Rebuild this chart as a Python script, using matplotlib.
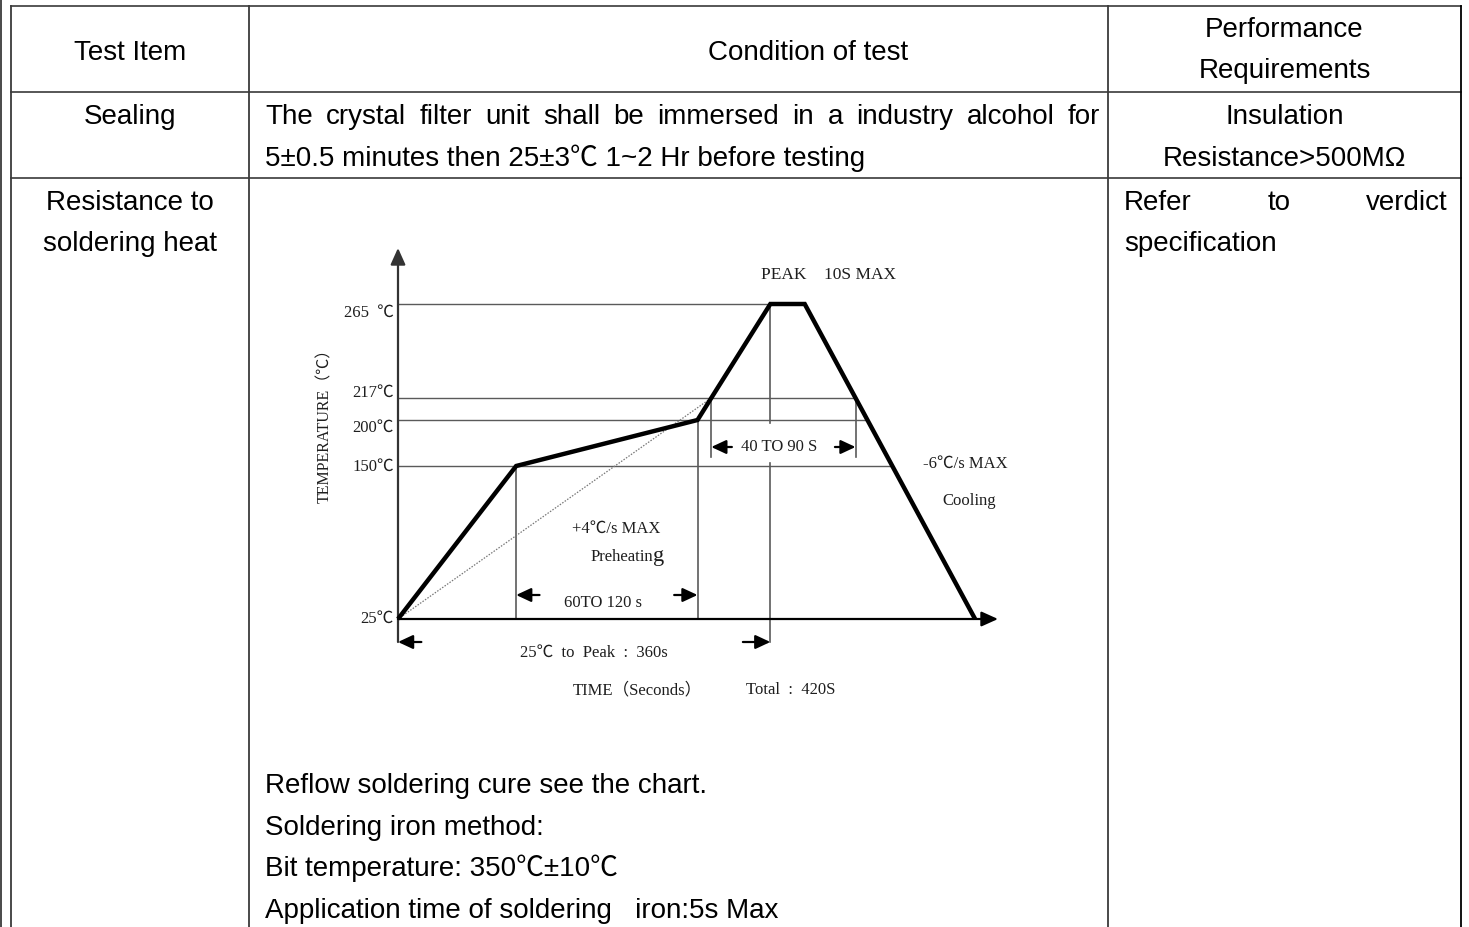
import numpy as np
import matplotlib
matplotlib.use("Agg")
import matplotlib.pyplot as plt
from matplotlib.transforms import blended_transform_factory

# ------------------------------------------------------------------ data
header_item = "Test Item"
header_cond = "Condition of test"
header_perf = ["Performance", "Requirements"]

row1_item = "Sealing"
row1_cond_line1 = "The crystal filter unit shall be immersed in a industry alcohol for"
row1_cond_line2 = "5±0.5 minutes then 25±3℃ 1~2 Hr before testing"
row1_perf = ["Insulation", "Resistance>500MΩ"]

row2_item = ["Resistance to", "soldering heat"]
row2_perf_line1 = "Refer to verdict"
row2_perf_line2 = "specification"
row2_cond_notes = [
    "Reflow soldering cure see the chart.",
    "Soldering iron method:",
    "Bit temperature: 350℃±10℃",
    "Application time of soldering   iron:5s Max",
]

# reflow profile (time in s, temperature in degC)
profile_time = [0, 86, 218, 228, 271, 296, 420]
profile_temp = [25, 150, 200, 217, 265, 265, 25]
temp_levels = [25, 150, 200, 217, 265]
temp_labels = ["25℃", "150℃", "200℃", "217℃", "265  ℃"]

# ------------------------------------------------------------------ layout
W, H = 1469, 927
col_x = [11, 249, 1108, 1461]
row_y = [6, 92, 178]
FS = 20
SANS = ["Liberation Sans", "Noto Sans CJK SC", "DejaVu Sans"]
SERIF = ["Liberation Serif", "Noto Sans CJK SC", "DejaVu Sans"]
LINE = "#3a3a3a"

# schematic chart geometry (pixels)
ox, oy = 398, 619          # origin of the chart
xtip, ytip = 998, 248      # arrow tips of the axes
px_per_s = 1.374
level_height = [0, 153, 199, 221, 315]   # schematic heights of temp_levels

fig = plt.figure(figsize=(W / 100, H / 100), dpi=100)
fig.patch.set_facecolor("white")
bg = fig.add_axes([0, 0, 1, 1])
bg.set_xlim(0, W)
bg.set_ylim(H, 0)
bg.axis("off")

# ---------------- table grid
bg.plot([1, 1], [0, H], color=LINE, lw=1.3)
for y in row_y:
    bg.plot([col_x[0], col_x[-1]], [y, y], color=LINE, lw=1.2)
for x in col_x:
    bg.plot([x, x], [row_y[0], H], color=LINE if x != col_x[-1] else "black", lw=1.3)


def ttext(x, y, s, ha="left"):
    return bg.text(x, y, s, ha=ha, va="baseline", fontsize=FS, family=SANS, color="black")


renderer = fig.canvas.get_renderer()


def justify(line, x0, x1, y):
    words = line.split()
    ts = [ttext(0, y, w) for w in words]
    ws = [t.get_window_extent(renderer).width for t in ts]
    gap = (x1 - x0 - sum(ws)) / (len(words) - 1)
    x = x0
    for t, w in zip(ts, ws):
        t.set_x(x)
        x += w + gap


c0 = (col_x[0] + col_x[1]) / 2
c2 = (col_x[2] + col_x[3]) / 2

ttext(c0, 60, header_item, ha="center")
ttext(808, 60, header_cond, ha="center")
ttext(c2, 37, header_perf[0], ha="center")
ttext(c2, 78, header_perf[1], ha="center")

ttext(c0, 124, row1_item, ha="center")
justify(row1_cond_line1, 265, 1100, 124)
ttext(265, 166, row1_cond_line2)
ttext(c2, 124, row1_perf[0], ha="center")
ttext(c2, 166, row1_perf[1], ha="center")

ttext(c0, 210, row2_item[0], ha="center")
ttext(c0, 251, row2_item[1], ha="center")
justify(row2_perf_line1, 1124, 1448, 210)
ttext(1124, 251, row2_perf_line2)
for i, s in enumerate(row2_cond_notes):
    ttext(265, 793 + i * 41.7, s)

# ---------------- reflow chart
TK = np.array([-300.0] + temp_levels + [600.0])
HK = np.array([-325 * 1.2] + level_height + [level_height[-1] + (600 - 265) * 1.3125])


def fwd(t):
    return np.interp(t, TK, HK)


def inv(h):
    return np.interp(h, HK, TK)


ax = fig.add_axes([ox / W, (H - oy) / H, (xtip - ox) / W, (oy - ytip) / H])
ax.set_yscale("function", functions=(fwd, inv))
ax.set_xlim(0, (xtip - ox) / px_per_s)
ax.set_ylim(25, float(inv(oy - ytip)))
ax.axis("off")
bl = blended_transform_factory(ax.transData, bg.transData)


def ypx(T):
    return oy - float(fwd(T))


t5, t6 = profile_time[5], profile_time[6]
h5, h6 = fwd(profile_temp[5]), fwd(profile_temp[6])


def t_cool(T):
    return t5 + (h5 - fwd(T)) / (h5 - h6) * (t6 - t5)


GRID = "#5a5a5a"
# horizontal levels
ax.plot([0, profile_time[4]], [265, 265], color=GRID, lw=1.0, clip_on=False)
for lvl in [150, 200, 217]:
    ax.plot([0, t_cool(lvl)], [lvl, lvl], color=GRID, lw=1.0, clip_on=False)
# verticals
ax.plot([profile_time[1]] * 2, [150, 25], color=GRID, lw=1.2, clip_on=False)
ax.plot([profile_time[2]] * 2, [200, 25], color=GRID, lw=1.2, clip_on=False)
ax.plot([profile_time[3]] * 2, [ypx(217), 457], color=GRID, lw=1.2, transform=bl, clip_on=False)
ax.plot([t_cool(217)] * 2, [ypx(217), 457], color=GRID, lw=1.2, transform=bl, clip_on=False)
ax.plot([profile_time[4]] * 2, [ypx(265), 423], color=GRID, lw=1.2, transform=bl, clip_on=False)
ax.plot([profile_time[4]] * 2, [463, 642], color=GRID, lw=1.2, transform=bl, clip_on=False)

# dotted reference ramp
ax.plot([profile_time[0], profile_time[3]], [profile_temp[0], profile_temp[3]],
        color="#777777", lw=0.9, ls=(0, (1.2, 1.2)), clip_on=False)

# profile curve
ax.plot(profile_time, profile_temp, color="black", lw=3.2, clip_on=False,
        solid_joinstyle="miter", solid_capstyle="butt", zorder=5)

AX_ARROW = dict(arrowstyle="-|>,head_length=1.0,head_width=0.45", mutation_scale=10,
                lw=1.6, color="black", shrinkA=0, shrinkB=0)
# y axis (extends below origin to the dimension line)
ax.annotate("", xy=(0, ytip), xytext=(0, 642), xycoords=bl, textcoords=bl,
            arrowprops=dict(AX_ARROW, color="#333333"), annotation_clip=False)
# x axis
ax.annotate("", xy=(ax.get_xlim()[1], 25), xytext=(0, 25),
            arrowprops=AX_ARROW, annotation_clip=False)

DIM = dict(arrowstyle="-|>,head_length=0.9,head_width=0.42", mutation_scale=10,
           lw=1.6, color="black", shrinkA=0, shrinkB=0)


def dim_arrow(t_from, t_to, y):
    ax.annotate("", xy=(t_to, y), xytext=(t_from, y), xycoords=bl, textcoords=bl,
                arrowprops=DIM, annotation_clip=False)


dim_arrow(profile_time[1] + 17, profile_time[1], 595)
dim_arrow(profile_time[2] - 17, profile_time[2], 595)
dim_arrow(profile_time[3] + 15, profile_time[3], 447)
dim_arrow(t_cool(217) - 15, t_cool(217), 447)
dim_arrow(17, 0, 642)
dim_arrow(profile_time[4] - 20, profile_time[4], 642)

# chart labels
CFS = 12.5
TXT = "#1e1e1e"


def ctext(x, y, s, ha="center", fs=CFS, va="center", **kw):
    return bg.text(x, y, s, ha=ha, va=va, fontsize=fs, family=SERIF, color=TXT, **kw)


label_y = [619, 467, 428, 393, 313]
for lab, yy in zip(temp_labels, label_y):
    ctext(394, yy, lab, ha="right", fs=12)
ctext(325, 422, "TEMPERATURE（℃）", fs=11.5, rotation=90)
ctext(829, 275, "PEAK    10S MAX")
ctext(779, 447, "40 TO 90 S", fs=12)
ctext(965, 464, "-6℃/s MAX", fs=12)
ctext(969, 501, "Cooling", fs=12)
ctext(616, 529, "+4℃/s MAX", fs=12)
ctext(653, 561, "Preheatin", ha="right", fs=12, va="baseline")
ctext(653, 561, "g", ha="left", fs=16, va="baseline")
ctext(603, 603, "60TO 120 s", fs=12)
ctext(594, 653, "25℃  to  Peak  :  360s", fs=12)
ctext(637, 690, "TIME（Seconds）", fs=12)
ctext(791, 690, "Total  :  420S", fs=12)

fig.savefig("out.png", dpi=100, facecolor="white")
